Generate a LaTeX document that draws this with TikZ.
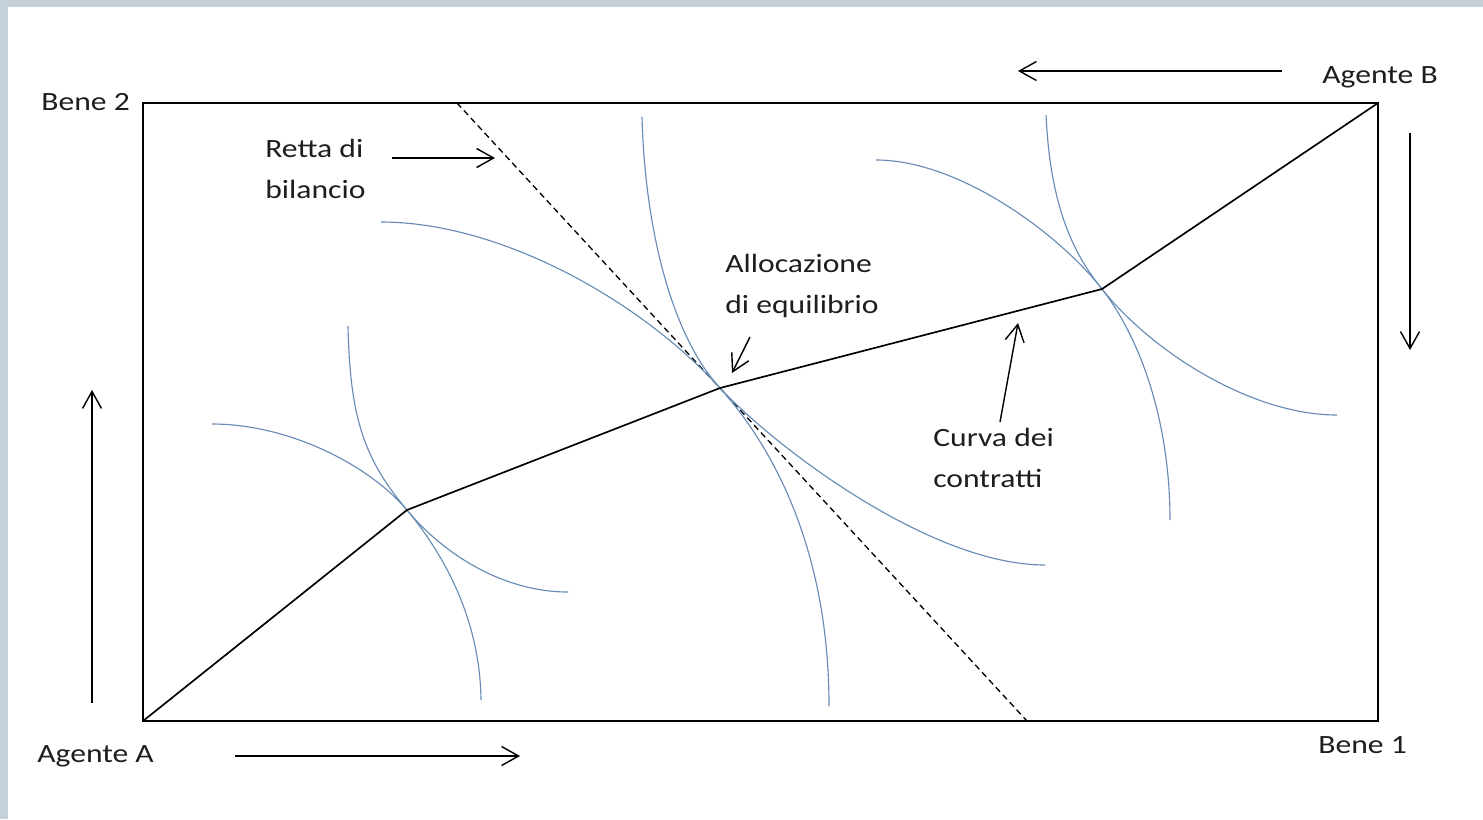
\documentclass[tikz,border=0pt]{standalone}
\usepackage{fontspec}
\setmainfont{Carlito}[FakeStretch=1.2]
\usetikzlibrary{arrows.meta}
\definecolor{pageframe}{RGB}{197,208,216}
\definecolor{icblue}{RGB}{105,140,182}
\definecolor{inktext}{RGB}{30,30,30}

\begin{document}
\begin{tikzpicture}[x=0.02cm,y=-0.02cm,
  lbl/.style={font=\fontsize{15}{23.2}\selectfont,inner sep=0pt,text=inktext,align=left},
  ar/.style={-{Straight Barb[length=3.4mm,width=3.8mm]},line width=0.8pt},
  ic/.style={icblue,line width=0.65pt},
  budget/.style={dash pattern=on 3.5pt off 2.3pt,line width=0.75pt}]
% page and frame
\fill[pageframe] (0,0) rectangle (1483,819);
\fill[white] (8,7) rectangle (1483,819);
\useasboundingbox (0,0) rectangle (1483,819);
% box corners and allocations
\coordinate (oA) at (143,721);
\coordinate (oB) at (1378,103);
\coordinate (p1) at (407,510);
\coordinate (p2) at (720,388);
\coordinate (p3) at (1102,289);
\draw[line width=1.1pt] (oA) rectangle (oB);
% budget line
\coordinate (bl1) at (457,103);
\coordinate (bl2) at (1027,721);
\draw[budget] (bl1) -- (bl2);
% indifference curves
\draw[ic] (348,326) .. controls (350,420) and (365,460) .. (p1) .. controls (445,556) and (505,592) .. (568,592);
\draw[ic] (212,424) .. controls (290,424) and (370,466) .. (p1) .. controls (445,556) and (480,620) .. (481,700);
\draw[ic] (642,117) .. controls (645,230) and (672,336) .. (p2) .. controls (775,447) and (930,565) .. (1045,565);
\draw[ic] (381,222) .. controls (500,222) and (640,300) .. (p2) .. controls (780,455) and (829,560) .. (829,706);
\draw[ic] (1046,115) .. controls (1050,200) and (1070,250) .. (p3) .. controls (1150,350) and (1250,415) .. (1337,415);
\draw[ic] (876,160) .. controls (960,160) and (1060,235) .. (p3) .. controls (1145,345) and (1170,430) .. (1170,520);
% contract curve
\draw[line width=0.95pt] (oA) -- (p1) -- (p2) -- (p3) -- (oB);
% labels
\node[lbl,anchor=base west] (bene2) at (41,110) {Bene 2};
\node[lbl,anchor=base west] (bene1) at (1318,753) {Bene 1};
\node[lbl,anchor=base west] (agA) at (37,762) {Agente A};
\node[lbl,anchor=base west] (agB) at (1322,83) {Agente B};
\node[lbl,anchor=base west] (retta) at (265,198) {Retta di\\bilancio};
\node[lbl,anchor=base west] (alloc) at (725,313) {Allocazione\\di equilibrio};
\node[lbl,anchor=base west] (curva) at (933,487) {Curva dei\\contratti};
% direction arrows
\coordinate (aUp0) at (92,703);   \coordinate (aUp1) at (92,390);
\coordinate (aRt0) at (235,756);  \coordinate (aRt1) at (520,756);
\coordinate (bLf0) at (1282,71);  \coordinate (bLf1) at (1018,71);
\coordinate (bDn0) at (1410,133); \coordinate (bDn1) at (1410,350);
\draw[ar] (aUp0) -- (aUp1);
\draw[ar] (aRt0) -- (aRt1);
\draw[ar] (bLf0) -- (bLf1);
\draw[ar] (bDn0) -- (bDn1);
% pointers
\coordinate (rt0) at (392,158);  \coordinate (rt1) at (495,158);
\coordinate (al0) at (750,337);  \coordinate (al1) at (732,373);
\coordinate (cv0) at (1000,422); \coordinate (cv1) at (1018,323);
\draw[ar] (rt0) -- (rt1);
\draw[ar] (al0) -- (al1);
\draw[ar] (cv0) -- (cv1);
\end{tikzpicture}
\end{document}
